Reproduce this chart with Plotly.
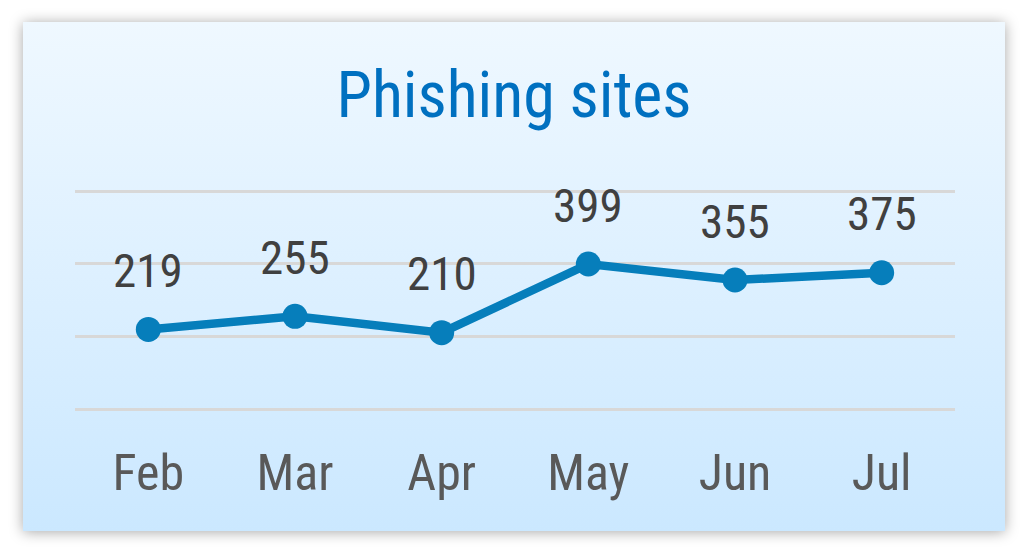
import base64
import plotly.graph_objects as go

months = ["Feb", "Mar", "Apr", "May", "Jun", "Jul"]
phishing_sites = [219, 255, 210, 399, 355, 375]
y_ticks = [0, 200, 400, 600]
title_text = "Phishing sites"

OFF = 8  # default page margin of the browser
W, H = 1028 - OFF, 554 - OFF
FONT = "Roboto Condensed, Liberation Sans Narrow, Roboto, sans-serif"


def px(v):
    return v - OFF


svg = f'''<svg xmlns="http://www.w3.org/2000/svg" width="{W}" height="{H}" viewBox="0 0 {W} {H}">
<defs>
<linearGradient id="g" x1="0" y1="0" x2="0" y2="1">
<stop offset="0" stop-color="#EFF8FF"/>
<stop offset="1" stop-color="#CBE8FF"/>
</linearGradient>
<filter id="s" x="-10%" y="-10%" width="120%" height="120%">
<feDropShadow dx="0" dy="1" stdDeviation="7" flood-color="#000" flood-opacity="0.35"/>
</filter>
</defs>
<rect x="{px(23)}" y="{px(22)}" width="982" height="509" fill="url(#g)" filter="url(#s)"/>
</svg>'''
src = "data:image/svg+xml;base64," + base64.b64encode(svg.encode()).decode()

fig = go.Figure()
fig.add_trace(go.Scatter(
    x=months, y=phishing_sites, mode="lines+markers",
    line=dict(color="#067EBB", width=8.5),
    marker=dict(size=25, color="#067EBB"),
    hoverinfo="skip", showlegend=False,
))

for m, v in zip(months, phishing_sites):
    fig.add_annotation(x=m, y=v, text=str(v), showarrow=False,
                       yanchor="middle", yshift=59,
                       font=dict(family=FONT, size=47, color="#404040"))

# y scale: 0 -> 409px, 600 -> 191px ; pad range a little so edge gridlines render
scale = (409 - 191) / 600
ylo, yhi = -5, 605
ybot = 409 + (0 - ylo) * scale
ytop = 191 - (yhi - 600) * scale

fig.update_layout(
    width=W, height=H,
    margin=dict(l=0, r=0, t=0, b=0),
    paper_bgcolor="white", plot_bgcolor="rgba(0,0,0,0)",
    images=[dict(source=src, xref="paper", yref="paper", x=0, y=1,
                 sizex=1, sizey=1, xanchor="left", yanchor="top",
                 sizing="stretch", layer="below")],
    title=dict(text=title_text, x=(px(514)) / W, xanchor="center",
               y=1 - px(95) / H, yanchor="middle", yref="paper",
               font=dict(family=FONT, size=64, color="#0070C0")),
    xaxis=dict(domain=[px(75) / W, px(955) / W], range=[-0.5, 5.5],
               showgrid=False, zeroline=False, showline=False,
               ticks="", ticklabelstandoff=28,
               tickfont=dict(family=FONT, size=50, color="#595959")),
    yaxis=dict(domain=[1 - px(ybot) / H, 1 - px(ytop) / H], range=[ylo, yhi],
               tickvals=y_ticks, showticklabels=False,
               showgrid=True, gridcolor="#D8D8D8", gridwidth=2.5,
               zeroline=False, showline=False),
)

fig.write_html("out.html")
